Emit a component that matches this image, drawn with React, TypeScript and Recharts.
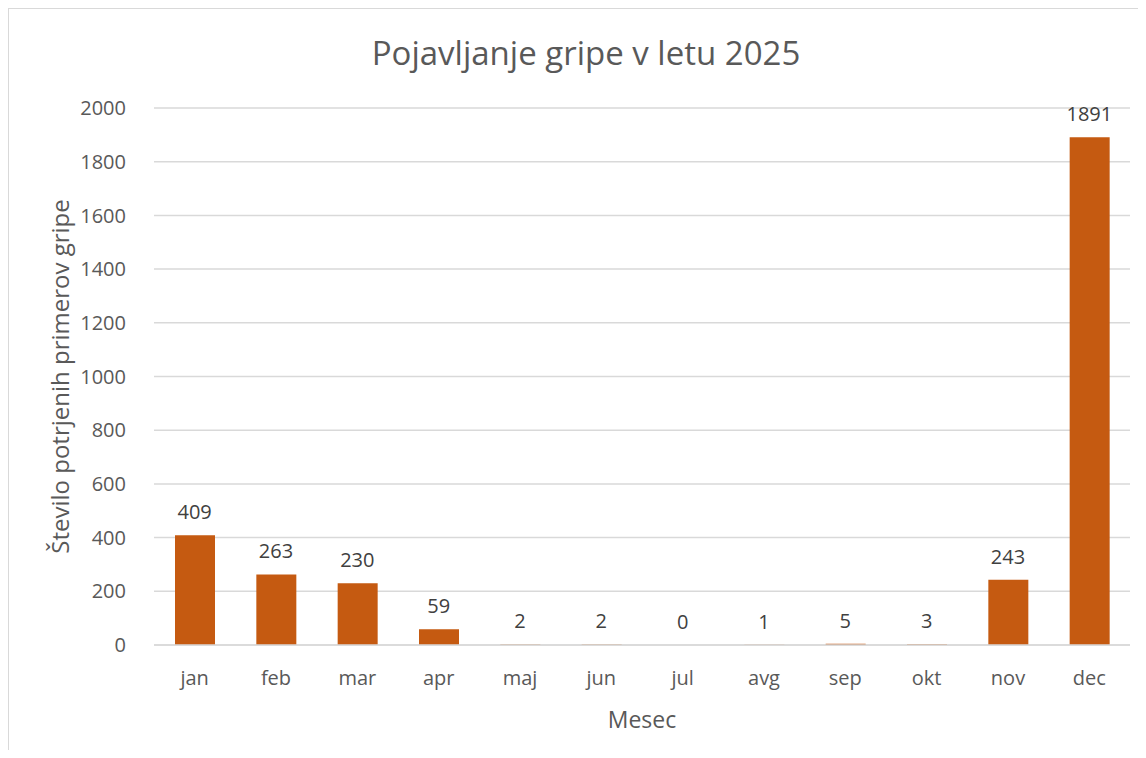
import { ComposedChart, Bar, Line, XAxis, YAxis, CartesianGrid, LabelList } from "recharts";

const months = ["jan", "feb", "mar", "apr", "maj", "jun", "jul", "avg", "sep", "okt", "nov", "dec"];
const cases = [409, 263, 230, 59, 2, 2, 0, 1, 5, 3, 243, 1891];
const yTicks = [0, 200, 400, 600, 800, 1000, 1200, 1400, 1600, 1800, 2000];

const data = months.map((m, i) => ({ month: m, cases: cases[i] }));

const font = "'Open Sans', sans-serif";
const textColor = "#595959";

export default function App() {
  return (
    <div
      style={{
        position: "relative",
        width: 1130,
        height: 742,
        borderLeft: "1px solid #d9d9d9",
        borderTop: "1px solid #d9d9d9",
        boxSizing: "border-box",
        fontFamily: font,
        overflow: "hidden",
      }}
    >
      <div
        style={{
          position: "absolute",
          top: 21,
          left: 0,
          width: 1154,
          textAlign: "center",
          fontSize: 33,
          color: textColor,
        }}
      >
        Pojavljanje gripe v letu 2025
      </div>
      <ComposedChart
        width={1130}
        height={742}
        data={data}
        margin={{ top: 100, right: 8, left: 0, bottom: 0 }}
        style={{ position: "absolute", top: -1, left: -1 }}
      >
        <CartesianGrid vertical={false} stroke="#d9d9d9" strokeWidth={1.5} />
        <XAxis
          dataKey="month"
          height={105}
          axisLine={{ stroke: "#d9d9d9", strokeWidth: 1.5 }}
          tickLine={false}
          tickMargin={20}
          tick={{ fill: textColor, fontSize: 20, fontFamily: font }}
          label={{
            value: "Mesec",
            position: "insideBottom",
            offset: 22,
            style: { fill: textColor, fontSize: 23, fontFamily: font },
          }}
        />
        <YAxis
          domain={[0, 2000]}
          ticks={yTicks}
          width={146}
          axisLine={false}
          tickLine={false}
          tickMargin={22}
          tick={{ fill: textColor, fontSize: 20, fontFamily: font }}
          label={{
            value: "Število potrjenih primerov gripe",
            angle: -90,
            position: "insideLeft",
            offset: 52,
            style: { textAnchor: "middle", fill: textColor, fontSize: 24, fontFamily: font },
          }}
        />
        <Bar dataKey="cases" fill="#C55A11" barSize={40} isAnimationActive={false} />
        <Line
          dataKey="cases"
          stroke="none"
          dot={false}
          activeDot={false}
          legendType="none"
          isAnimationActive={false}
        >
          <LabelList
            dataKey="cases"
            position="top"
            offset={16}
            style={{ fill: "#404040", fontSize: 20, fontFamily: font }}
          />
        </Line>
      </ComposedChart>
    </div>
  );
}
